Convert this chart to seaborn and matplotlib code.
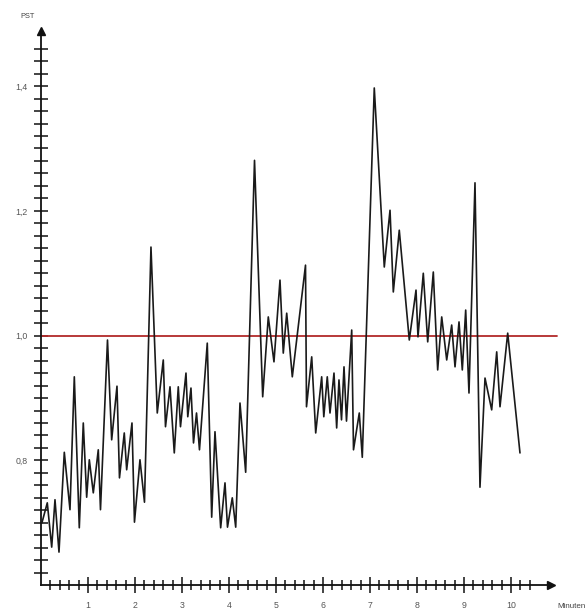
import numpy as np
import pandas as pd
import matplotlib
matplotlib.use("Agg")
import matplotlib.pyplot as plt
import seaborn as sns

# ---- data ----
minutes = [0.02, 0.134, 0.228, 0.298, 0.383, 0.496, 0.617, 0.709, 0.815, 0.900,
           0.972, 1.028, 1.113, 1.219, 1.266, 1.415, 1.504, 1.617, 1.670, 1.772,
           1.823, 1.936, 1.989, 2.106, 2.202, 2.340, 2.474, 2.602, 2.649, 2.745,
           2.836, 2.921, 2.968, 3.085, 3.123, 3.191, 3.245, 3.309, 3.372, 3.538,
           3.632, 3.702, 3.823, 3.915, 3.968, 4.070, 4.143, 4.234, 4.355, 4.543,
           4.717, 4.836, 4.957, 5.085, 5.155, 5.228, 5.347, 5.628, 5.649, 5.760,
           5.845, 5.972, 6.017, 6.091, 6.149, 6.234, 6.291, 6.340, 6.394, 6.447,
           6.500, 6.611, 6.649, 6.772, 6.836, 7.091, 7.304, 7.426, 7.496, 7.623,
           7.836, 7.979, 8.021, 8.134, 8.228, 8.347, 8.440, 8.526, 8.632, 8.738,
           8.809, 8.894, 8.964, 9.036, 9.106, 9.234, 9.340, 9.447, 9.589, 9.696,
           9.766, 9.930, 10.191]
pst = [0.700, 0.732, 0.661, 0.737, 0.653, 0.813, 0.721, 0.934, 0.692, 0.860,
       0.741, 0.801, 0.748, 0.817, 0.721, 0.993, 0.833, 0.919, 0.772, 0.844,
       0.785, 0.860, 0.701, 0.801, 0.733, 1.142, 0.876, 0.961, 0.854, 0.918,
       0.812, 0.918, 0.854, 0.940, 0.870, 0.916, 0.828, 0.876, 0.817, 0.988,
       0.709, 0.846, 0.692, 0.764, 0.693, 0.740, 0.693, 0.892, 0.781, 1.281,
       0.902, 1.030, 0.958, 1.089, 0.972, 1.036, 0.934, 1.113, 0.886, 0.966,
       0.844, 0.934, 0.870, 0.934, 0.876, 0.940, 0.852, 0.929, 0.865, 0.950,
       0.863, 1.009, 0.817, 0.876, 0.805, 1.397, 1.110, 1.201, 1.070, 1.169,
       0.993, 1.073, 0.998, 1.100, 0.990, 1.102, 0.945, 1.030, 0.961, 1.017,
       0.950, 1.022, 0.945, 1.041, 0.908, 1.245, 0.757, 0.932, 0.881, 0.974,
       0.886, 1.004, 0.812]
limit_value = 1.0
y_label_values = [0.8, 1.0, 1.2, 1.4]
y_label_texts = ["0,8", "1,0", "1,2", "1,4"]
x_label_values = [1, 2, 3, 4, 5, 6, 7, 8, 9, 10]
x_label_texts = ["1", "2", "3", "4", "5", "6", "7", "8", "9", "10"]
y_axis_title = "PST"
x_axis_title = "Minuten"

df = pd.DataFrame({"Minuten": minutes, "PST": pst})

sns.set_style("white")
plt.rcParams["font.family"] = ["Liberation Sans", "DejaVu Sans"]

fig = plt.figure(figsize=(5.87, 6.16), dpi=100)
ax = fig.add_axes([0, 0, 1, 1])
ax.set_xlim(-0.872, 11.617)
ax.set_ylim(0.5506, 1.538)

# limit line
ax.plot([0, 10.98], [limit_value, limit_value], color="#b22a2a", lw=1.3, zorder=2)

sns.lineplot(data=df, x="Minuten", y="PST", ax=ax, sort=False, estimator=None,
             color="#1a1a1a", lw=1.2, zorder=3)

# axes as arrows
for s in ["top", "right"]:
    ax.spines[s].set_visible(False)
ax.spines["left"].set_position(("data", 0))
ax.spines["bottom"].set_position(("data", 0.6))
ax.spines["left"].set_bounds(0.6, 1.48)
ax.spines["bottom"].set_bounds(0, 10.8)
for s in ["left", "bottom"]:
    ax.spines[s].set_color("#111111")
    ax.spines[s].set_linewidth(1.3)
ax.plot([0], [1.488], marker="^", color="#111111", ms=5.5, clip_on=False, zorder=5)
ax.plot([10.85], [0.6], marker=">", color="#111111", ms=5.5, clip_on=False, zorder=5)

# ticks
ax.set_yticks(y_label_values)
ax.set_yticklabels(y_label_texts)
ax.set_yticks(np.round(np.arange(0.62, 1.47, 0.02), 2), minor=True)
ax.set_xticks(x_label_values)
ax.set_xticklabels(x_label_texts)
ax.set_xticks([v for v in np.round(np.arange(0.2, 10.41, 0.2), 1) if abs(v - round(v)) > 1e-6],
              minor=True)
ax.tick_params(axis="y", which="both", direction="inout", length=9.4, width=1.1,
               color="#111111", labelsize=6.3, labelcolor="#555555", pad=5.0, left=True)
ax.tick_params(axis="x", which="major", direction="inout", length=12, width=1.1,
               color="#111111", labelsize=6.3, labelcolor="#555555", pad=5.5, bottom=True)
ax.tick_params(axis="x", which="minor", direction="inout", length=7.5, width=1.1,
               color="#111111", bottom=True)
ax.set_xlabel("")
ax.set_ylabel("")
ax.grid(False)

ax.text(-0.277, 1.512, y_axis_title, fontsize=5.3, color="#444444", ha="center", va="center")
ax.text(11.28, 0.566, x_axis_title, fontsize=5.8, color="#444444", ha="center", va="center")

fig.savefig("out.png", dpi=100, facecolor="white")
